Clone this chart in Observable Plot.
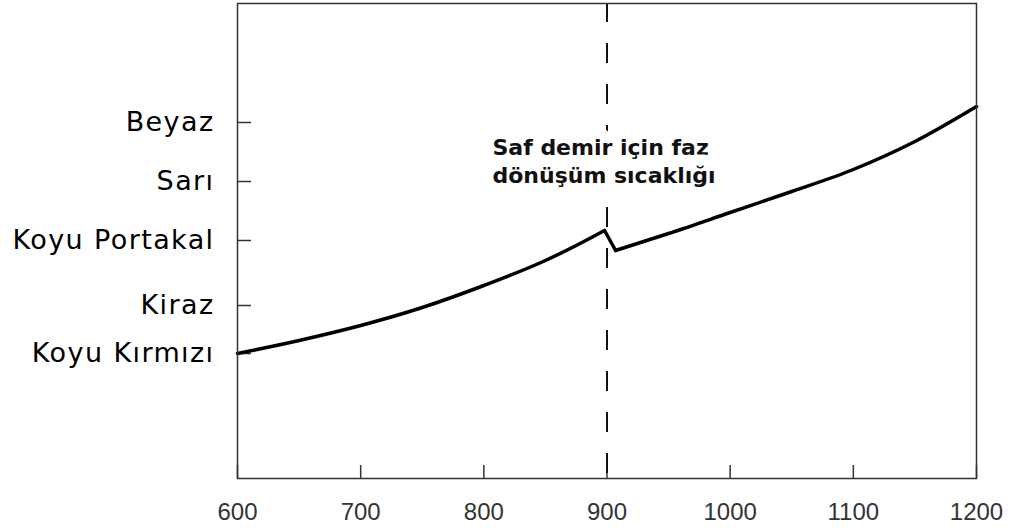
<!DOCTYPE html>
<html>
<head>
<meta charset="utf-8">
<script src="https://cdn.jsdelivr.net/npm/d3@7"></script>
<script src="https://cdn.jsdelivr.net/npm/@observablehq/plot@0.6"></script>
<style>
  html, body { margin: 0; padding: 0; background: #fff; }
  #chart svg { display: block; }
  #chart g[aria-label="y-axis tick label"] text { letter-spacing: 1.4px; }
</style>
</head>
<body>
<div id="chart"></div>
<script>
// Temperature (°C) and relative glow colour (arbitrary brightness units)
const temps  = [600, 650, 700, 750, 800, 850, 875, 898, 907, 950, 1000, 1050, 1100, 1150, 1200];
const glow   = [125, 138, 153, 171, 193, 218, 233, 248, 228, 245, 266, 287, 309, 337, 372];

const xTicks = [600, 700, 800, 900, 1000, 1100, 1200];
const colorLevels = [125, 173, 238, 297, 356];
const colorNames  = ["Koyu Kırmızı", "Kiraz", "Koyu Portakal", "Sarı", "Beyaz"];

const transitionTemp = [900];
const noteText = ["Saf demir için faz\ndönüşüm sıcaklığı"];
const noteX = [807];
const noteY = [343];

// split the curve into: heating before the transition, the drop, and after it
const peakIdx = 7, dipIdx = 8;
const curve = [];
temps.forEach((t, i) => {
  if (i <= peakIdx) curve.push({t, g: glow[i], seg: "a"});
  if (i === peakIdx || i === dipIdx) curve.push({t, g: glow[i], seg: "b"});
  if (i >= dipIdx) curve.push({t, g: glow[i], seg: "c"});
});
const levels = colorLevels.map((v, i) => ({v, name: colorNames[i]}));

const W = 1011, H = 531;
const mL = 237, mR = 35, mT = 3, mB = 53;
const xDomain = [600, 1200], yDomain = [0, 475];
const unitsPerPxX = (xDomain[1] - xDomain[0]) / (W - mL - mR);
const unitsPerPxY = (yDomain[1] - yDomain[0]) / (H - mT - mB);

const chart = Plot.plot({
  width: W,
  height: H,
  marginLeft: mL,
  marginRight: mR,
  marginTop: mT,
  marginBottom: mB,
  x: {domain: xDomain},
  y: {domain: yDomain},
  marks: [
    // inward ticks
    Plot.ruleX(xTicks, {x: d => d, y1: yDomain[0], y2: yDomain[0] + 13 * unitsPerPxY, stroke: "#333", strokeWidth: 1.5}),
    Plot.ruleY(levels, {y: "v", x1: xDomain[0], x2: xDomain[0] + 14 * unitsPerPxX, stroke: "#333", strokeWidth: 1.5}),
    // dashed transition line
    Plot.ruleX(transitionTemp, {x: d => d, stroke: "#111", strokeWidth: 2, strokeDasharray: "20,21", strokeDashoffset: 1}),
    // annotation with white backing that hides the dashed line
    Plot.text(noteText, {x: noteX, y: noteY, text: d => d, textAnchor: "start", lineAnchor: "top", lineHeight: 1.27,
      fontSize: 22, fontWeight: "bold", fontFamily: "DejaVu Sans, sans-serif", fill: "#111",
      stroke: "white", strokeWidth: 22, strokeLinejoin: "round"}),
    // the curve
    Plot.line(curve, {x: "t", y: "g", z: "seg", curve: "monotone-x", stroke: "#000", strokeWidth: 3.5, strokeLinejoin: "round", strokeLinecap: "round"}),
    Plot.frame({stroke: "#333", strokeWidth: 1.5}),
    Plot.axisX(xTicks, {tickSize: 0, tickPadding: 24, fontSize: 24, fontFamily: "Liberation Sans, Arial, sans-serif", fill: "#333", label: null,
      tickFormat: d => String(d)}),
    Plot.axisY(colorLevels, {tickSize: 0, tickPadding: 23, fontSize: 27, fontFamily: "DejaVu Sans, sans-serif", fill: "#000", label: null,
      tickFormat: d => colorNames[colorLevels.indexOf(d)]})
  ]
});
document.getElementById("chart").appendChild(chart);
</script>
</body>
</html>
